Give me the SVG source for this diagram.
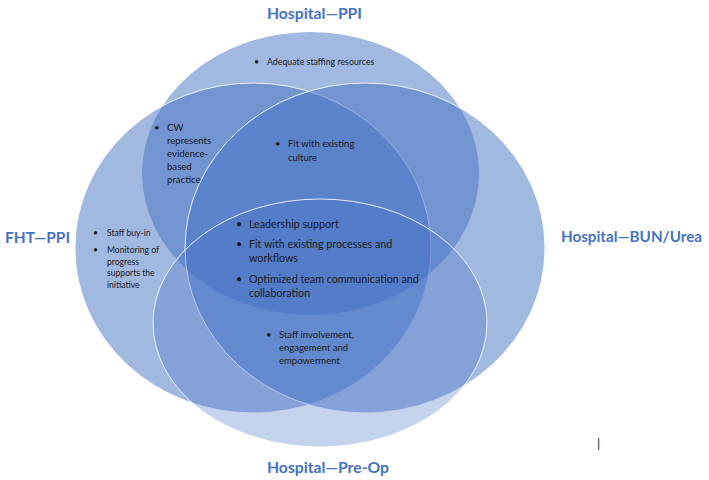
<svg xmlns="http://www.w3.org/2000/svg" width="709" height="480" viewBox="0 0 709 480">
<style>
.e{fill:#4472C4;fill-opacity:0.5}
.s{stroke:#ffffff;stroke-width:1;stroke-opacity:0.85}
.lab{font-family:Lato,"Open Sans",sans-serif;font-weight:bold;fill:#4472C4;font-size:16px}
.t{font-family:Lato,"Open Sans",sans-serif;fill:#1a1a1a}
</style>
<rect width="709" height="480" fill="#ffffff"/>
<g id="hospital-ppi">
<ellipse class="e" cx="310.5" cy="173.5" rx="168.5" ry="141.5"/>
</g>
<g id="fht-ppi">
<ellipse class="e s" cx="253" cy="248" rx="178" ry="165"/>
</g>
<g id="hospital-bun">
<ellipse class="e s" cx="365" cy="248" rx="180" ry="165"/>
</g>
<g id="hospital-preop">
<ellipse class="e s" cx="320" cy="323" rx="167" ry="124" style="fill-opacity:0.31"/>
</g>
<g id="connectors"></g>
<g id="labels">
<text class="lab" x="267" y="19" textLength="95" lengthAdjust="spacingAndGlyphs">Hospital—PPI</text>
<text class="lab" x="5" y="243" textLength="65" lengthAdjust="spacingAndGlyphs">FHT—PPI</text>
<text class="lab" x="561" y="242" textLength="141" lengthAdjust="spacingAndGlyphs">Hospital—BUN/Urea</text>
<text class="lab" x="267" y="473" textLength="122" lengthAdjust="spacingAndGlyphs">Hospital—Pre-Op</text>
<text x="597" y="447" font-family="Liberation Sans,sans-serif" font-size="12" fill="#333">|</text>
</g>
<g id="text-top" class="t" font-size="8.8">
<text x="254" y="65">•</text><text x="267" y="65">Adequate staffing resources</text>
</g>
<g id="text-cw" class="t" font-size="9.6">
<text x="154" y="131">•</text>
<text x="167" y="131">CW</text>
<text x="167" y="144">represents</text>
<text x="167" y="157">evidence-</text>
<text x="167" y="170">based</text>
<text x="167" y="183">practice</text>
</g>
<g id="text-culture" class="t" font-size="9.5">
<text x="275" y="147">•</text>
<text x="288" y="147">Fit with existing</text>
<text x="288" y="161">culture</text>
</g>
<g id="text-left" class="t" font-size="8.6">
<text x="93" y="236">•</text>
<text x="107" y="236">Staff buy-in</text>
<text x="93" y="253">•</text>
<text x="107" y="253">Monitoring of</text>
<text x="107" y="264.5">progress</text>
<text x="107" y="276">supports the</text>
<text x="107" y="287.5">initiative</text>
</g>
<g id="text-center" class="t" font-size="10.7">
<text x="236" y="228">•</text>
<text x="249" y="228">Leadership support</text>
<text x="236" y="248">•</text>
<text x="249" y="248">Fit with existing processes and</text>
<text x="249" y="262">workflows</text>
<text x="236" y="283">•</text>
<text x="249" y="283">Optimized team communication and</text>
<text x="249" y="297">collaboration</text>
</g>
<g id="text-bottom" class="t" font-size="9.5">
<text x="266" y="338">•</text>
<text x="279" y="338">Staff involvement,</text>
<text x="279" y="351">engagement and</text>
<text x="279" y="364">empowerment</text>
</g>
</svg>
